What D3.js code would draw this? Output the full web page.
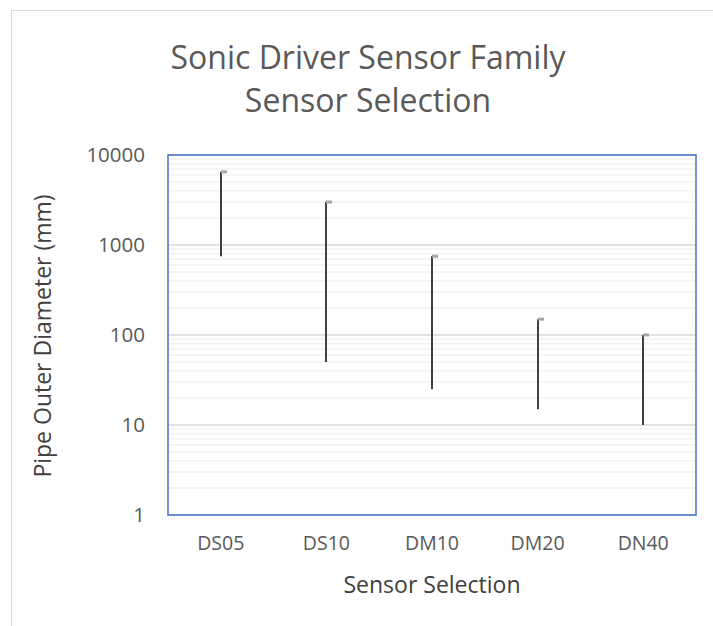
<!DOCTYPE html>
<html>
<head>
<meta charset="utf-8">
<script src="https://cdn.jsdelivr.net/npm/d3@7"></script>
<style>
    body { margin: 0; background: #fff; }
    text { font-family: "Open Sans", sans-serif; }
</style>
</head>
<body>
<div id="chart"></div>
<script>
const sensors = ['DS05', 'DS10', 'DM10', 'DM20', 'DN40'];
const highValues = [6500, 3000, 750, 150, 100];
const lowValues = [750, 50, 25, 15, 10];
const yTicks = [1, 10, 100, 1000, 10000];

const width = 713, height = 626;
const plot = {left: 168, right: 696, top: 155, bottom: 515};

const svg = d3.select('#chart').append('svg')
    .attr('width', width)
    .attr('height', height);

// outer chart frame
svg.append('rect')
    .attr('x', 11.5).attr('y', 10.5)
    .attr('width', width + 10).attr('height', height + 10)
    .attr('fill', '#fff')
    .attr('stroke', '#d9d9d9');

const x = d3.scaleBand()
    .domain(sensors)
    .range([plot.left, plot.right]);

const y = d3.scaleLog()
    .domain([1, 10000])
    .range([plot.bottom, plot.top]);

// minor gridlines
const minor = [];
for (let d = 1; d < 10000; d *= 10) {
    for (let k = 2; k <= 9; k++) minor.push(d * k);
}
svg.append('g').selectAll('line')
    .data(minor)
    .enter().append('line')
    .attr('x1', plot.left).attr('x2', plot.right)
    .attr('y1', d => y(d)).attr('y2', d => y(d))
    .attr('stroke', '#f2f2f2')
    .attr('stroke-width', 1.5);

// major gridlines
svg.append('g').selectAll('line')
    .data(yTicks)
    .enter().append('line')
    .attr('x1', plot.left).attr('x2', plot.right)
    .attr('y1', d => y(d)).attr('y2', d => y(d))
    .attr('stroke', '#d9d9d9')
    .attr('stroke-width', 1.5);

// plot area border
svg.append('rect')
    .attr('x', plot.left).attr('y', plot.top)
    .attr('width', plot.right - plot.left)
    .attr('height', plot.bottom - plot.top)
    .attr('fill', 'none')
    .attr('stroke', '#4472c4')
    .attr('stroke-width', 1.5);

// y axis labels
const yAxis = svg.append('g')
    .attr('transform', 'translate(' + plot.left + ',0)')
    .call(d3.axisLeft(y).tickValues(yTicks).tickFormat(d3.format('d')).tickSize(0).tickPadding(23));
yAxis.select('.domain').remove();
yAxis.selectAll('text')
    .attr('fill', '#595959')
    .style('font-size', '20.5px')
    .style('font-family', '"Open Sans", sans-serif');

// x axis labels
const xAxis = svg.append('g')
    .attr('transform', 'translate(0,' + plot.bottom + ')')
    .call(d3.axisBottom(x).tickSize(0).tickPadding(21));
xAxis.select('.domain').remove();
xAxis.selectAll('text')
    .attr('fill', '#595959')
    .style('font-size', '19.5px')
    .style('font-family', '"Open Sans", sans-serif');

// high-low lines
const rows = sensors.map((s, i) => ({name: s, high: highValues[i], low: lowValues[i]}));
const cx = d => Math.round(x(d.name) + x.bandwidth() / 2);

svg.append('g').selectAll('line')
    .data(rows)
    .enter().append('line')
    .attr('x1', cx).attr('x2', cx)
    .attr('y1', d => y(d.high)).attr('y2', d => y(d.low))
    .attr('stroke', '#404040')
    .attr('stroke-width', 2);

// close markers
svg.append('g').selectAll('line')
    .data(rows)
    .enter().append('line')
    .attr('x1', d => cx(d)).attr('x2', d => cx(d) + 6)
    .attr('y1', d => y(d.high)).attr('y2', d => y(d.high))
    .attr('stroke', '#a5a5a5')
    .attr('stroke-width', 3);

// titles
const title = svg.append('text')
    .attr('text-anchor', 'middle')
    .attr('fill', '#595959')
    .style('font-size', '32px');
title.append('tspan').attr('x', 368).attr('y', 69).text('Sonic Driver Sensor Family');
title.append('tspan').attr('x', 368).attr('y', 112).text('Sensor Selection');

svg.append('text')
    .attr('x', 432).attr('y', 593)
    .attr('text-anchor', 'middle')
    .attr('fill', '#404040')
    .style('font-size', '23px')
    .text('Sensor Selection');

svg.append('text')
    .attr('transform', 'translate(51,336) rotate(-90)')
    .attr('text-anchor', 'middle')
    .attr('fill', '#404040')
    .style('font-size', '23px')
    .text('Pipe Outer Diameter (mm)');
</script>
</body>
</html>
